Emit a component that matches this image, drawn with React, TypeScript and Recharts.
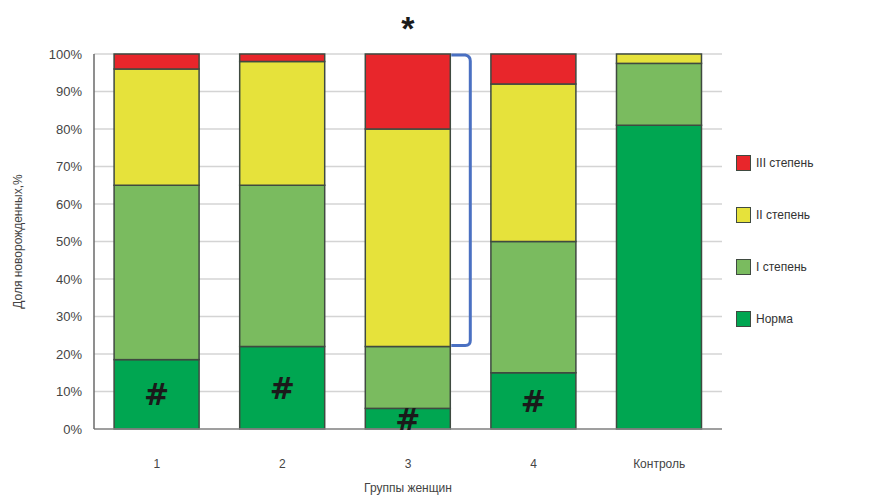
import { BarChart, Bar, XAxis, YAxis, CartesianGrid, LabelList } from 'recharts';

const groups = ['1', '2', '3', '4', 'Контроль'];
const norma = [18.5, 22, 5.5, 15, 81];
const stage1 = [46.5, 43, 16.5, 35, 16.5];
const stage2 = [31, 33, 58, 42, 2.5];
const stage3 = [4, 2, 20, 8, 0];
const hashMarks = ['#', '#', '#', '#', ''];
const starMarks = ['', '', '*', '', ''];
const yTicks = [0, 10, 20, 30, 40, 50, 60, 70, 80, 90, 100];

const series = [
  { key: 'norma', name: 'Норма', color: '#00a651' },
  { key: 'stage1', name: 'I степень', color: '#7abb5f' },
  { key: 'stage2', name: 'II степень', color: '#e6e23b' },
  { key: 'stage3', name: 'III степень', color: '#e8262b' },
];

const data = groups.map((g, i) => ({
  group: g,
  norma: norma[i],
  stage1: stage1[i],
  stage2: stage2[i],
  stage3: stage3[i],
  hash: hashMarks[i],
  star: starMarks[i],
}));

const FONT = '"Liberation Sans", Arial, sans-serif';
const EDGE = '#3f4a40';

function TopShape(props: any) {
  const { x, y, width, height, fill, payload, index } = props;
  const out = [
    <rect key="r" x={x} y={y} width={width} height={Math.max(height, 0)} fill={fill} stroke={EDGE} strokeWidth={1.5} />,
  ];
  if (index === 2 && height > 0) {
    // bracket from top of group 3 down to the top of "I степень"
    const perUnit = height / payload.stage3;
    const bottomY = y + (100 - payload.norma - payload.stage1) * perUnit;
    const x0 = x + width + 1;
    const x1 = x + width + 20;
    out.push(
      <path
        key="b"
        d={`M${x0},${y + 1} L${x1 - 5},${y + 1} Q${x1},${y + 2} ${x1},${y + 7} L${x1},${bottomY - 6} Q${x1},${bottomY - 1} ${x1 - 5},${bottomY - 1} L${x0},${bottomY - 1}`}
        fill="none"
        stroke="#4a70c2"
        strokeWidth={3}
      />
    );
  }
  return <g>{out}</g>;
}

function PlainShape(props: any) {
  const { x, y, width, height, fill } = props;
  if (!height) return null;
  return <rect x={x} y={y} width={width} height={height} fill={fill} stroke={EDGE} strokeWidth={1.5} />;
}

function HashLabel(props: any) {
  const { x, y, width, height, value } = props;
  if (!value) return null;
  return (
    <text x={x + width / 2} y={y + height / 2 + 11} textAnchor="middle" fontSize={30} fontWeight="bold" fontFamily='"DejaVu Sans", sans-serif' fill="#1a1a1a">
      {value}
    </text>
  );
}

function StarLabel(props: any) {
  const { x, y, width, value } = props;
  if (!value) return null;
  return (
    <text x={x + width / 2} y={y - 14} textAnchor="middle" fontSize={34} fontWeight="bold" fontFamily={FONT} fill="#1a1a1a">
      {value}
    </text>
  );
}

function LegendBox() {
  const items = [...series].reverse();
  return (
    <div style={{ position: 'absolute', left: 736, top: 137, fontFamily: FONT, fontSize: 12, color: '#333' }}>
      {items.map((s) => (
        <div key={s.key} style={{ display: 'flex', alignItems: 'center', height: 52 }}>
          <span style={{ display: 'inline-block', width: 13, height: 14, background: s.color, border: `1.5px solid ${EDGE}`, marginRight: 5 }} />
          <span>{s.name}</span>
        </div>
      ))}
    </div>
  );
}

export default function App() {
  return (
    <div style={{ position: 'absolute', left: 0, top: 0, width: 879, height: 496, background: '#fff' }}>
      <BarChart width={879} height={496} data={data} margin={{ top: 54, right: 157, bottom: 37, left: 34 }} barCategoryGap="16%">
        <CartesianGrid vertical={false} stroke="#d4d4d4" strokeWidth={1.5} />
        <XAxis
          dataKey="group"
          height={30}
          tickLine={false}
          axisLine={{ stroke: '#8a8a8a', strokeWidth: 1.5 }}
          tick={{ fontSize: 12, fill: '#444', fontFamily: FONT }}
          tickMargin={24}
          label={{ value: 'Группы женщин', position: 'insideBottom', offset: -33, fontSize: 12, fill: '#444', fontFamily: FONT }}
        />
        <YAxis
          width={60}
          domain={[0, 100]}
          ticks={yTicks}
          tickFormatter={(v) => `${v}%`}
          tickLine={false}
          axisLine={{ stroke: '#6a6a6a', strokeWidth: 1.5 }}
          tick={{ fontSize: 13, fill: '#444', fontFamily: FONT }}
          tickMargin={6}
          label={{ value: 'Доля новорожденных,%', angle: -90, position: 'insideLeft', offset: -16, fontSize: 12, fill: '#444', fontFamily: FONT, style: { textAnchor: 'middle' } }}
        />
        <Bar dataKey="norma" name="Норма" stackId="a" fill={series[0].color} shape={PlainShape} isAnimationActive={false}>
          <LabelList dataKey="hash" content={HashLabel} />
        </Bar>
        <Bar dataKey="stage1" name="I степень" stackId="a" fill={series[1].color} shape={PlainShape} isAnimationActive={false} />
        <Bar dataKey="stage2" name="II степень" stackId="a" fill={series[2].color} shape={PlainShape} isAnimationActive={false} />
        <Bar dataKey="stage3" name="III степень" stackId="a" fill={series[3].color} shape={TopShape} isAnimationActive={false}>
          <LabelList dataKey="star" content={StarLabel} />
        </Bar>
      </BarChart>
      <LegendBox />
    </div>
  );
}
